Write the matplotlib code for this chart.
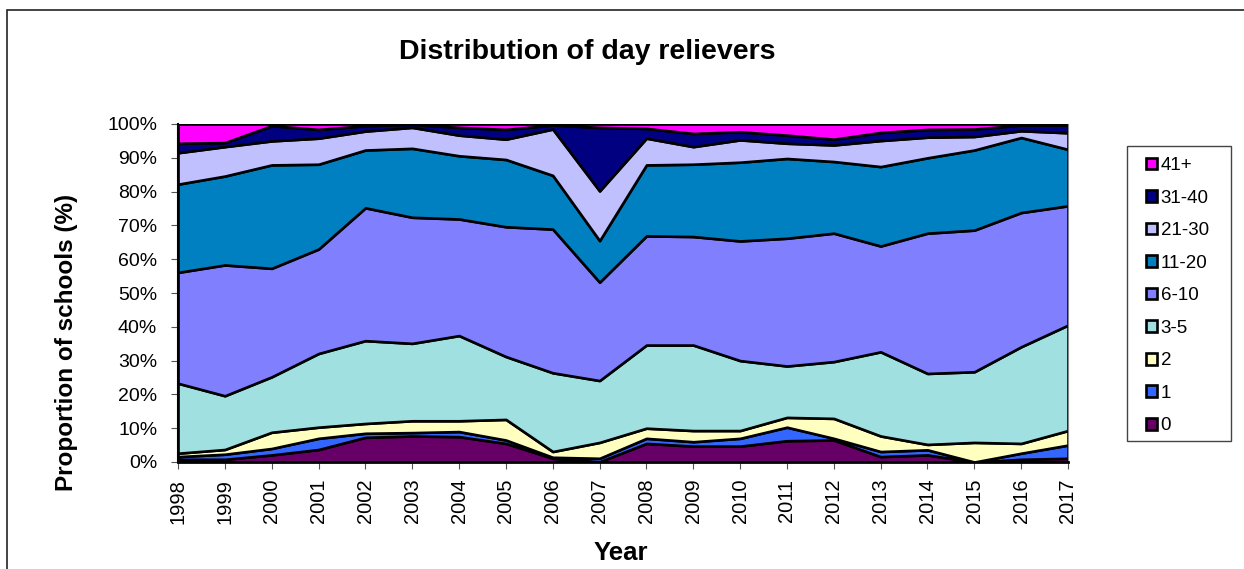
import matplotlib
matplotlib.use('Agg')
import matplotlib.pyplot as plt
from matplotlib.patches import Rectangle
import numpy as np

plt.rcParams['font.family'] = ['Liberation Sans', 'DejaVu Sans']

years = list(range(1998, 2018))

# share of schools (%) in each band
r0 = [0.8, 0.8, 2.1, 3.7, 7.3, 7.7, 7.5, 5.5, 1.1, 0.1, 5.5, 4.7, 4.7, 6.3, 6.5, 1.6, 2.1, 0.0, 0.8, 1.1]
r1 = [0.8, 1.5, 1.9, 3.3, 1.2, 1.0, 1.5, 1.0, 0.3, 1.0, 1.5, 1.3, 2.3, 4.0, 0.5, 1.5, 1.5, 0.0, 1.8, 3.9]
r2 = [1.0, 1.4, 4.8, 3.3, 2.9, 3.5, 3.2, 6.1, 1.7, 4.7, 3.0, 3.3, 2.3, 2.9, 5.9, 4.6, 1.6, 5.8, 2.9, 4.3]
r3_5 = [20.7, 15.9, 16.4, 21.8, 24.5, 22.9, 25.2, 18.6, 23.3, 18.3, 24.6, 25.3, 20.7, 15.2, 16.8, 24.9, 21.0, 20.9, 28.6, 31.2]
r6_10 = [32.8, 38.7, 32.1, 30.9, 39.3, 37.3, 34.5, 38.4, 42.5, 29.1, 32.3, 32.1, 35.4, 37.8, 38.0, 31.3, 41.5, 41.9, 39.7, 35.3]
r11_20 = [26.1, 26.3, 30.6, 25.1, 17.1, 20.4, 18.7, 19.9, 15.9, 12.3, 21.0, 21.4, 23.3, 23.6, 21.2, 23.5, 22.3, 23.7, 22.2, 16.7]
r21_30 = [9.3, 8.7, 7.1, 7.7, 5.6, 6.2, 6.1, 6.0, 13.7, 14.7, 7.9, 5.2, 6.6, 4.5, 4.9, 7.7, 6.1, 4.0, 2.0, 4.9]
r31_40 = [2.8, 1.2, 4.5, 2.6, 1.6, 0.9, 2.3, 2.9, 1.2, 18.8, 2.9, 3.9, 2.4, 2.4, 1.7, 2.4, 2.3, 2.2, 1.7, 2.3]
r41 = [5.7, 5.5, 0.5, 1.6, 0.5, 0.1, 1.0, 1.6, 0.3, 1.0, 1.3, 2.8, 2.3, 3.3, 4.5, 2.5, 1.6, 1.5, 0.3, 0.3]

labels = ['0', '1', '2', '3-5', '6-10', '11-20', '21-30', '31-40', '41+']
colors = ['#660066', '#3366FF', '#FFFFC0', '#A0E0E0', '#8080FF',
          '#0080C0', '#C0C0FF', '#000080', '#FF00FF']

series = np.array([r0, r1, r2, r3_5, r6_10, r11_20, r21_30, r31_40, r41])
# rescale each year so the bands add up to 100%
series = series / series.sum(axis=0) * 100

W, H = 1244, 569
fig = plt.figure(figsize=(W / 100, H / 100), dpi=100)
ax = fig.add_axes([178 / W, 1 - 462 / H, (1068 - 178) / W, (462 - 124) / H])

polys = ax.stackplot(years, series, labels=labels, colors=colors,
                     edgecolor='black', linewidth=1.9)

ax.set_xlim(1998, 2017)
ax.set_ylim(0, 100)
ax.set_xticks(years)
ax.set_xticklabels([str(y) for y in years], rotation=90, fontsize=14.5)
ax.set_yticks(range(0, 101, 10))
ax.set_yticklabels(['%d%%' % v for v in range(0, 101, 10)], fontsize=14)
ax.tick_params(axis='y', length=5, pad=10, color='#555555')
ax.tick_params(axis='x', length=5, pad=7, color='#555555')

ax.spines['top'].set_visible(False)
ax.spines['right'].set_color('#888888')
ax.spines['left'].set_linewidth(1.5)
ax.spines['bottom'].set_linewidth(2)

fig.text(587 / W, 1 - 52 / H, 'Distribution of day relievers', ha='center', va='center',
         fontsize=20.5, fontweight='bold')
fig.text(67 / W, 1 - 342 / H, 'Proportion of schools (%)', ha='center', va='center',
         rotation=90, fontsize=17.5, fontweight='bold')
fig.text(621 / W, 1 - 553 / H, 'Year', ha='center', va='center',
         fontsize=18.5, fontweight='bold')

# legend, reversed so 41+ is on top
handles, labs = ax.get_legend_handles_labels()
fig.legend(handles[::-1], labs[::-1], loc='upper left',
           bbox_to_anchor=(1146 / W, 1 - 157 / H), frameon=False,
           fontsize=13.5, borderpad=0, borderaxespad=0,
           handlelength=0.58, handleheight=0.58, handletextpad=0.2,
           labelspacing=0.83)
fig.patches.append(Rectangle((1127 / W, 1 - 441 / H), (1231 - 1127) / W, (441 - 146) / H,
                             transform=fig.transFigure, fill=False,
                             edgecolor='#444444', linewidth=1))

# chart area border
fig.patches.append(Rectangle((7 / W, -0.1), 1.2, 1 - 10 / H + 0.1,
                             transform=fig.transFigure, fill=False,
                             edgecolor='#222222', linewidth=1.2))

fig.savefig('out.png', dpi=100)
